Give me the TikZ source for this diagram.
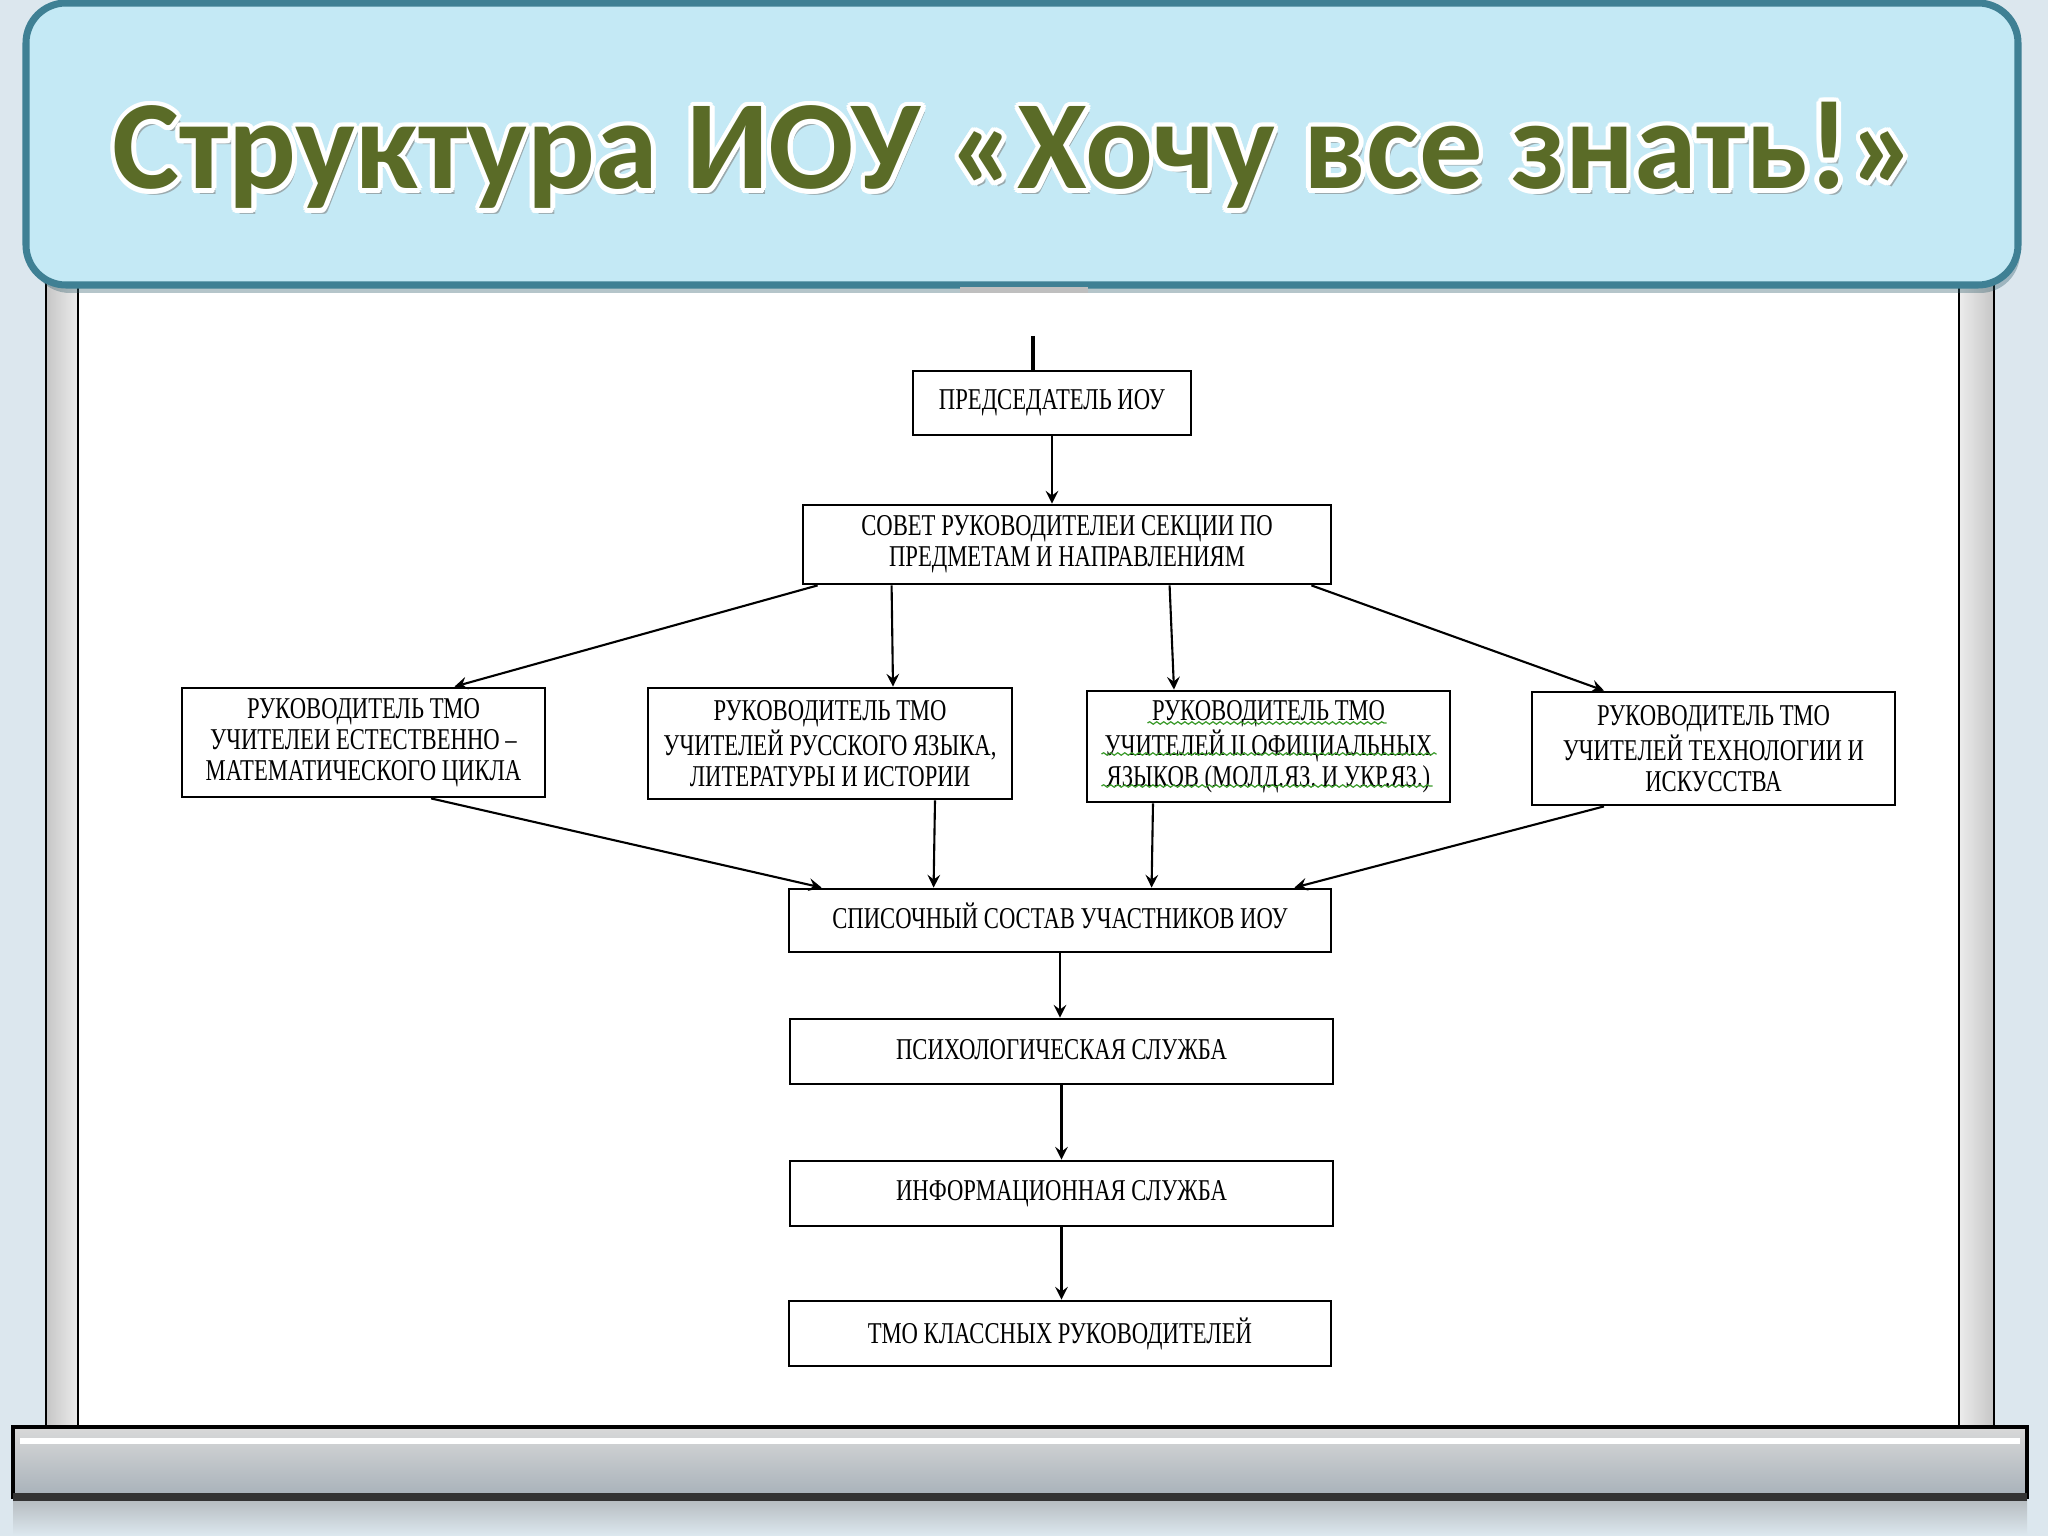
\documentclass[tikz,border=0pt]{standalone}
\usepackage{fontspec}
\usepackage{contour}
\setmainfont{Liberation Serif}
\newfontfamily\boxfont[FakeStretch=0.75]{Liberation Serif}
\newfontfamily\titlefont{Carlito}
\usetikzlibrary{decorations.pathmorphing}
\definecolor{bgcol}{HTML}{DCE7EE}
\definecolor{bannerfill}{HTML}{C4E9F5}
\definecolor{bannerline}{HTML}{3F8094}
\definecolor{titlegreen}{HTML}{5A6B27}
\definecolor{bargray}{HTML}{A7B1B9}
\definecolor{wavegreen}{HTML}{3A9A2A}
\contourlength{1.3pt}

\begin{document}
\begin{tikzpicture}[>=stealth,
  box/.style={draw, line width=0.8pt, fill=white, align=center, inner sep=0pt,
    font=\boxfont\fontsize{8.6}{8.8}\selectfont},
  arr/.style={->, line width=0.6pt},
  wave/.style={wavegreen, line width=0.35pt, decorate,
    decoration={snake, amplitude=0.35pt, segment length=2pt}}]
  \useasboundingbox (0,0) rectangle (20.48,-15.36);
  % фон
  \fill[bgcol] (0,0) rectangle (20.48,-15.36);
  \shade[top color=gray!45!bgcol, bottom color=bgcol] (0.13,-14.97) rectangle (20.27,-15.35);
  % доска: стойки, белое поле, нижняя планка
  \fill[white] (0.78,-2.8) rectangle (19.59,-14.27);
  \draw[line width=0.8pt, left color=gray!45, right color=gray!15] (0.46,-2.8) rectangle (0.78,-14.27);
  \draw[line width=0.8pt, left color=gray!15, right color=gray!45] (19.59,-2.8) rectangle (19.94,-14.27);
  \draw[line width=1pt, top color=gray!30, bottom color=bargray] (0.13,-14.27) rectangle (20.27,-14.97);
  \draw[white, line width=1.5pt] (0.2,-14.41) -- (20.2,-14.41);
  \draw[black!80, line width=2pt] (0.13,-14.97) -- (20.27,-14.97);
  % заголовок
  \fill[bannerline!70!black, opacity=0.35, rounded corners=0.4cm] (0.3,-0.1) rectangle (20.2,-2.93);
  \draw[bannerline, line width=2pt, fill=bannerfill, rounded corners=0.4cm] (0.26,-0.03) rectangle (20.18,-2.85);
  \fill[gray!50] (9.60,-2.87) rectangle (10.88,-2.93);
  \node[gray!60!bannerfill, anchor=base, font=\titlefont\bfseries\fontsize{36}{36}\selectfont] (titleshadow) at (10.19,-1.95) {Структура ИОУ «Хочу все знать!»};
  \node[titlegreen, anchor=base, font=\titlefont\bfseries\fontsize{36}{36}\selectfont] (title) at (10.15,-1.89) {\contour{white}{Структура ИОУ «Хочу все знать!»}};
  % блоки
  \node[box, minimum width=2.78cm, minimum height=0.64cm] (pred) at (10.52,-4.03) {\raisebox{1.5pt}{ПРЕДСЕДАТЕЛЬ ИОУ}};
  \node[box, minimum width=5.28cm, minimum height=0.79cm] (sovet) at (10.67,-5.445) {СОВЕТ РУКОВОДИТЕЛЕИ СЕКЦИИ ПО\\ПРЕДМЕТАМ И НАПРАВЛЕНИЯМ};
  \node[box, minimum width=3.63cm, minimum height=1.09cm] (estmat) at (3.635,-7.425) {РУКОВОДИТЕЛЬ ТМО\\УЧИТЕЛЕИ ЕСТЕСТВЕННО –\\МАТЕМАТИЧЕСКОГО ЦИКЛА};
  \node[box, minimum width=3.64cm, minimum height=1.11cm] (rus) at (8.30,-7.435) {РУКОВОДИТЕЛЬ ТМО\\УЧИТЕЛЕЙ РУССКОГО ЯЗЫКА,\\ЛИТЕРАТУРЫ И ИСТОРИИ};
  \node[box, minimum width=3.63cm, minimum height=1.11cm] (ofic) at (12.685,-7.465) {РУКОВОДИТЕЛЬ ТМО\\УЧИТЕЛЕЙ II ОФИЦИАЛЬНЫХ\\ЯЗЫКОВ (МОЛД.ЯЗ. И УКР.ЯЗ.)};
  \node[box, minimum width=3.63cm, minimum height=1.13cm] (tech) at (17.135,-7.485) {РУКОВОДИТЕЛЬ ТМО\\УЧИТЕЛЕЙ ТЕХНОЛОГИИ И\\ИСКУССТВА};
  \node[box, minimum width=5.42cm, minimum height=0.63cm] (spis) at (10.60,-9.205) {\raisebox{2.5pt}{СПИСОЧНЫЙ СОСТАВ УЧАСТНИКОВ ИОУ}};
  \node[box, minimum width=5.43cm, minimum height=0.65cm] (psy) at (10.615,-10.515) {\raisebox{1pt}{ПСИХОЛОГИЧЕСКАЯ СЛУЖБА}};
  \node[box, minimum width=5.43cm, minimum height=0.65cm] (inf) at (10.615,-11.935) {ИНФОРМАЦИОННАЯ СЛУЖБА};
  \node[box, minimum width=5.42cm, minimum height=0.65cm] (klass) at (10.60,-13.335) {\raisebox{1pt}{ТМО КЛАССНЫХ РУКОВОДИТЕЛЕЙ}};
  % подчёркивания проверки орфографии
  \draw[wave] ([xshift=-1.21cm,yshift=0.235cm]ofic.center) -- ([xshift=1.18cm,yshift=0.235cm]ofic.center);
  \draw[wave] ([xshift=-1.67cm,yshift=-0.075cm]ofic.center) -- ([xshift=1.68cm,yshift=-0.075cm]ofic.center);
  \draw[wave] ([xshift=-1.67cm,yshift=-0.395cm]ofic.center) -- ([xshift=1.64cm,yshift=-0.395cm]ofic.center);
  % связи
  \coordinate (topend) at (10.33,-3.36);
  \draw[line width=1.2pt] (topend) -- (topend |- pred.north);
  \draw[arr] (pred.south) -- (pred.south |- sovet.north);
  \draw[arr] ([xshift=0.16cm]sovet.south west) -- ([xshift=0.91cm]estmat.north);
  \draw[arr] ([xshift=0.90cm]sovet.south west) -- ([xshift=0.63cm]rus.north);
  \draw[arr] ([xshift=3.68cm]sovet.south west) -- ([xshift=-0.945cm]ofic.north);
  \draw[arr] ([xshift=-0.21cm]sovet.south east) -- ([xshift=-1.095cm]tech.north);
  \draw[arr] ([xshift=0.675cm]estmat.south) -- ([xshift=0.34cm]spis.north west);
  \draw[arr] ([xshift=1.05cm]rus.south) -- ([xshift=1.46cm]spis.north west);
  \draw[arr] ([xshift=-1.155cm]ofic.south) -- ([xshift=3.64cm]spis.north west);
  \draw[arr] ([xshift=-1.095cm]tech.south) -- ([xshift=-0.38cm]spis.north east);
  \draw[arr] (spis.south) -- (spis.south |- psy.north);
  \draw[arr] (psy.south) -- (psy.south |- inf.north);
  \draw[arr] (inf.south) -- (inf.south |- klass.north);
\end{tikzpicture}
\end{document}
